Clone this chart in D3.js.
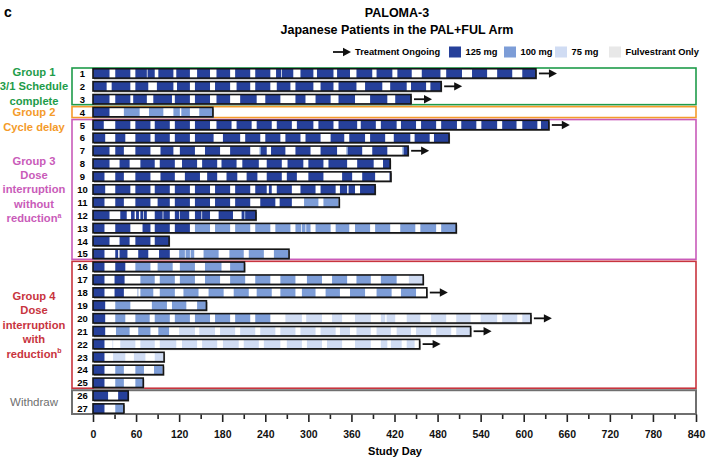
<!DOCTYPE html>
<html><head><meta charset="utf-8">
<script src="https://cdn.jsdelivr.net/npm/d3@7"></script>
<style>body{margin:0;background:#fff}svg{display:block;font-family:"Liberation Sans",Arial,sans-serif}</style>
</head><body><svg id="c" width="709" height="461"></svg>
<script>
// ---------------- data ----------------
const patientIds = ["1","2","3","4","5","6","7","8","9","10","11","12","13","14","15","16","17","18","19","20","21","22","23","24","25","26","27"];
const endDays = [617,485,443,167,635,496,439,414,415,393,343,227,506,106,273,211,460,465,158,610,526,455,99,98,70,49,43];
const ongoing = [1,1,1,0,1,0,1,0,0,0,0,0,0,0,0,0,0,1,0,1,1,1,0,0,0,0,0];
// segments per patient: [startDay, endDay, dose] (dose 0 = fulvestrant only); white = no palbociclib
const segments = [
 [[0,23,125],[31,52,125],[59,75,125],[76,86,125],[91,112,125],[116,135,125],[145,163,125],[172,191,125],[198,219,125],[226,247,125],[255,262,125],[263,279,125],[289,307,125],[312,335,125],[340,358,125],[367,389,125],[395,417,125],[424,444,125],[458,484,125],[492,514,125],[528,549,125],[563,584,125],[598,617,125]],
 [[0,19,125],[26,52,125],[59,77,125],[89,112,125],[117,135,125],[142,163,125],[170,191,125],[200,219,125],[226,247,125],[256,275,125],[282,307,125],[317,335,125],[342,367,125],[379,403,125],[414,437,125],[443,464,125],[470,485,125]],
 [[0,23,125],[31,52,125],[56,75,125],[84,110,125],[114,135,125],[142,163,125],[172,191,125],[205,228,125],[240,261,125],[282,296,125],[310,331,125],[342,365,125],[386,410,125],[421,443,125]],
 [[0,23,125],[43,65,100],[78,98,100],[112,121,100],[123,135,100],[148,167,100]],
 [[0,15,125],[31,52,125],[59,80,125],[86,107,125],[114,135,125],[142,163,125],[172,193,125],[200,221,125],[228,249,125],[256,277,125],[284,307,125],[314,335,125],[342,368,125],[373,394,125],[401,423,125],[429,450,125],[457,478,125],[485,507,125],[513,534,125],[541,563,125],[570,590,125],[598,619,125],[624,635,125]],
 [[0,17,125],[31,45,125],[59,80,125],[86,107,125],[114,135,125],[142,168,125],[181,205,125],[212,233,125],[240,261,125],[268,289,125],[296,317,125],[331,350,125],[357,379,125],[386,407,125],[419,442,125],[448,469,125],[475,496,125]],
 [[0,23,125],[31,43,125],[59,80,125],[94,112,125],[121,142,125],[156,177,125],[191,219,125],[232,234,100],[234,242,125],[248,268,125],[282,303,125],[317,340,125],[353,355,100],[355,375,125],[389,410,125],[431,433,100],[433,439,125]],
 [[0,23,125],[37,51,125],[66,86,125],[93,114,125],[124,145,125],[152,173,125],[179,200,125],[208,231,125],[242,263,125],[271,293,125],[300,321,125],[328,354,125],[368,391,125],[404,414,125]],
 [[0,16,125],[31,43,125],[59,80,125],[94,114,125],[128,149,125],[159,173,125],[186,201,125],[214,229,125],[242,263,125],[270,284,125],[300,321,125],[347,361,125],[375,393,125],[413,415,125]],
 [[0,17,125],[31,52,125],[59,80,125],[86,107,125],[114,135,125],[142,163,125],[170,191,125],[198,219,125],[226,242,125],[245,249,125],[256,277,125],[289,310,125],[317,338,125],[344,354,125],[356,365,125],[372,393,125]],
 [[0,16,125],[31,43,125],[59,80,125],[90,107,125],[114,135,125],[142,163,125],[170,191,125],[198,219,125],[233,254,125],[260,277,125],[294,314,100],[321,342,100]],
 [[0,23,125],[38,47,125],[53,58,125],[60,64,125],[66,70,125],[71,75,125],[86,97,125],[98,107,125],[114,120,125],[121,134,125],[142,151,125],[152,163,125],[175,195,125],[207,211,125],[211,212,100],[212,227,125]],
 [[0,16,125],[31,52,125],[69,80,125],[86,107,125],[114,135,125],[142,163,100],[170,191,100],[198,219,100],[226,247,100],[254,275,100],[282,290,100],[291,296,100],[297,303,100],[310,331,100],[338,357,100],[365,386,100],[393,414,100],[428,449,100],[456,478,100],[485,506,100]],
 [[0,23,125],[37,51,125],[59,80,125],[86,106,125]],
 [[0,16,125],[31,35,125],[37,48,125],[63,77,125],[92,107,125],[120,128,100],[129,135,100],[136,141,100],[154,175,100],[190,210,100],[217,238,100],[252,272,100]],
 [[0,16,125],[31,45,125],[59,80,100],[90,111,100],[121,142,100],[156,179,100],[191,211,100]],
 [[0,16,125],[30,44,125],[66,86,100],[93,114,100],[121,142,100],[156,177,100],[191,212,100],[226,247,100],[261,282,100],[298,319,100],[333,354,100],[367,387,100],[401,423,100],[440,460,75]],
 [[0,16,125],[30,43,125],[62,63,100],[66,84,100],[93,114,100],[126,147,100],[161,182,100],[196,217,100],[228,249,100],[261,282,100],[291,310,100],[324,344,100],[358,379,100],[395,416,100],[429,450,100]],
 [[0,17,125],[31,52,100],[82,103,100],[110,130,100],[145,158,100]],
 [[0,17,125],[31,45,100],[59,79,100],[86,107,100],[114,135,100],[142,163,100],[170,191,100],[198,219,100],[226,247,100],[268,291,75],[297,319,75],[333,347,75],[365,387,75],[401,407,75],[409,421,75],[437,456,75],[471,492,75],[506,526,75],[540,563,75],[570,591,75],[598,610,75]],
 [[0,17,125],[32,51,100],[63,80,100],[91,106,100],[120,142,75],[148,170,75],[177,198,75],[205,226,75],[233,254,75],[261,282,75],[289,310,75],[317,338,75],[344,358,75],[367,387,75],[395,415,75],[423,443,75],[450,471,75],[478,499,75],[506,526,75]],
 [[0,16,125],[27,28,75],[38,59,75],[66,86,75],[93,116,75],[124,145,75],[152,173,75],[181,203,75],[210,231,75],[238,261,75],[270,291,75],[298,319,75],[326,347,75],[365,387,75],[401,410,75],[415,430,75],[437,448,75]],
 [[0,16,125],[28,45,75],[57,73,75],[86,98,75]],
 [[0,16,125],[31,43,100],[59,71,100],[85,97,100]],
 [[0,16,125],[31,43,100],[59,70,100]],
 [[0,21,125],[35,49,125]],
 [[0,16,125],[31,42,100]]
];
const groupLines = [["Group 1","3/1 Schedule","complete"],["Group 2","Cycle delay"],["Group 3","Dose","interruption","without","reduction"],["Group 4","Dose","interruption","with","reduction"],["Withdraw"]];
const groupSup = ["","","a","b",""];
const groupFirst = ["1","4","5","16","26"];
const groupLast = ["3","4","15","25","27"];
const groupColors = ["#1e9c4a","#f49b2a","#c95bb9","#c8343e","#6f6f6f"];
const doseKeys = [125,100,75,0];
const doseLabels = ["125 mg","100 mg","75 mg","Fulvestrant Only"];
const doseColors = ["#26409a","#7d9dd7","#d0dcf3","#e8e8e8"];
const tickDays = [0,30,60,90,120,150,180,210,240,270,300,330,360,390,420,450,480,510,540,570,600,630,660,690,720,750,780,810,840];

// ---------------- chart ----------------
const svg = d3.select("#c");
const x = d3.scaleLinear().domain([0,840]).range([93,696]);
const y = d3.scaleBand().domain(patientIds).range([67,415]);
const color = d3.scaleOrdinal().domain(doseKeys).range(doseColors);
const bw = y.bandwidth();

svg.append("text").attr("x",4).attr("y",17).attr("font-size",14).attr("font-weight","bold").text("c");
svg.append("text").attr("x",397).attr("y",16.5).attr("text-anchor","middle").attr("font-size",12.5).attr("font-weight","bold").text("PALOMA-3");
svg.append("text").attr("x",397).attr("y",33.5).attr("text-anchor","middle").attr("font-size",12.5).attr("font-weight","bold").text("Japanese Patients in the PAL+FUL Arm");

function arrow(g, x0, x1, cy){
  g.append("line").attr("x1",x0).attr("x2",x1-5).attr("y1",cy).attr("y2",cy).attr("stroke","#111").attr("stroke-width",1.8);
  g.append("path").attr("d",`M${x1},${cy}L${x1-8},${cy-4.2}L${x1-8},${cy+4.2}Z`).attr("fill","#111");
}

// legend
const lg = svg.append("g");
const ly = 52;
arrow(lg, 333, 351, ly);
lg.append("text").attr("x",355).attr("y",ly+3.3).attr("font-size",9.3).attr("font-weight","bold").text("Treatment Ongoing");
const legX = [449,504,555,609];
doseKeys.forEach((k,i)=>{
  lg.append("rect").attr("x",legX[i]).attr("y",ly-5.5).attr("width",12).attr("height",11).attr("fill",color(k));
  lg.append("text").attr("x",legX[i]+16.5).attr("y",ly+3.3).attr("font-size",9.3).attr("font-weight","bold").text(doseLabels[i]);
});

// group boxes and labels
groupFirst.forEach((f,i)=>{
  const top = y(f)+1, bot = y(groupLast[i])+bw-1;
  svg.append("rect").attr("x",72).attr("y",top).attr("width",624).attr("height",bot-top)
    .attr("fill","none").attr("stroke",groupColors[i]).attr("stroke-width", i===4?2:1.6);
  const lines = groupLines[i];
  const lh = 14.4;
  let y0;
  if(i===1) y0 = y(f)+bw/2; else y0 = (top+bot)/2 - (lines.length-1)*lh/2;
  lines.forEach((t,j)=>{
    const tx = svg.append("text").attr("x",34).attr("y",y0+j*lh+4).attr("text-anchor","middle")
      .attr("font-size", i===4?11.5:11.2).attr("font-weight", i===4?"normal":"bold").attr("fill",groupColors[i]).text(t);
    if(j===lines.length-1 && groupSup[i]) tx.append("tspan").attr("font-size",7).attr("dy",-4.5).text(groupSup[i]);
  });
});

// bars
const bars = svg.append("g");
patientIds.forEach((id,i)=>{
  const cy = y(id)+bw/2;
  const x0 = x(0), x1 = x(endDays[i]);
  const h = 9.4;
  bars.append("rect").attr("x",x0+1).attr("y",cy-h/2+1.3).attr("width",x1-x0).attr("height",h).attr("fill","#8a8a8a");
  bars.append("rect").attr("x",x0).attr("y",cy-h/2).attr("width",x1-x0).attr("height",h).attr("fill","#fff");
  bars.selectAll(null).data(segments[i]).enter().append("rect")
    .attr("x",d=>x(d[0])).attr("width",d=>Math.max(0.8,x(d[1])-x(d[0])))
    .attr("y",cy-h/2).attr("height",h).attr("fill",d=>color(d[2]));
  bars.append("rect").attr("x",x0).attr("y",cy-h/2).attr("width",x1-x0).attr("height",h)
    .attr("fill","none").attr("stroke","#151515").attr("stroke-width",1.6);
  if(ongoing[i]) arrow(bars, x1+3, x1+21, cy);
  svg.append("text").attr("x",82.5).attr("y",cy+3.5).attr("text-anchor","middle").attr("font-size",9.5).attr("font-weight","bold").text(id);
});

// axis
const axis = d3.axisBottom(x).tickValues(tickDays).tickFormat(d=> d%60===0 ? d : "").tickSize(7);
const ag = svg.append("g").attr("transform","translate(0,414.5)").call(axis);
ag.select(".domain").remove();
ag.selectAll(".tick line").attr("stroke","#222").attr("stroke-width",1.6).attr("y2",d=>d%60===0?7.5:4.5);
ag.selectAll(".tick text").attr("y",16).attr("font-size",10.5).attr("font-weight","bold").attr("fill","#111").attr("font-family","'Liberation Sans',Arial,sans-serif");
svg.append("text").attr("x",395).attr("y",455).attr("text-anchor","middle").attr("font-size",11).attr("font-weight","bold").text("Study Day");
</script></body></html>
